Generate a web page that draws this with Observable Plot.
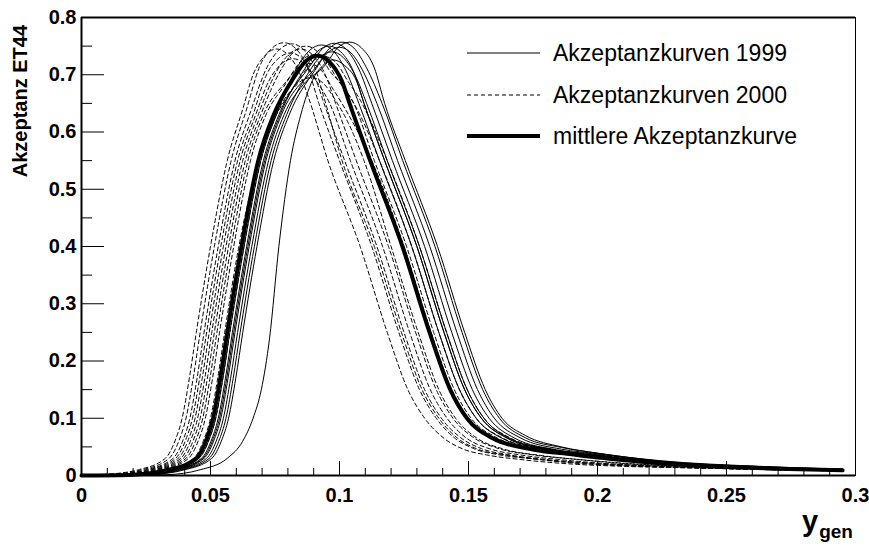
<!DOCTYPE html>
<html><head><meta charset="utf-8">
<script src="https://cdn.jsdelivr.net/npm/d3@7"></script>
<script src="https://cdn.jsdelivr.net/npm/@observablehq/plot@0.6"></script>
<style>html,body{margin:0;padding:0;background:#fff;} #chart{width:869px;height:548px;overflow:hidden;}</style>
</head><body><div id="chart"></div><script>
// ---- axis / label data ----
const X_DOMAIN = [0, 0.3];
const Y_DOMAIN = [0, 0.8];
const xMajor = [0, 0.05, 0.1, 0.15, 0.2, 0.25, 0.3];
const yMajor = [0, 0.1, 0.2, 0.3, 0.4, 0.5, 0.6, 0.7, 0.8];
const yMinor = [0.05, 0.15, 0.25, 0.35, 0.45, 0.55, 0.65, 0.75];
const xMinor = d3.range(1, 30).map(i => i / 100).filter(v => Math.round(v * 100) % 5 !== 0);
const yTitle = "Akzeptanz ET44";
const legendLabels = ["Akzeptanzkurven 1999", "Akzeptanzkurven 2000", "mittlere Akzeptanzkurve"];

// ---- curves: [y_gen, acceptance] ----
const S1 = [[0,0],[0.021,0.0015],[0.035,0.01],[0.0455,0.03],[0.0492,0.06],[0.052,0.1],[0.0548,0.17],[0.0575,0.25],[0.063,0.4],[0.0695,0.55],[0.0755,0.63],[0.0835,0.712],[0.0885,0.743],[0.093,0.752],[0.0975,0.742],[0.1025,0.707],[0.1075,0.65],[0.1155,0.55],[0.128,0.4],[0.1385,0.25],[0.1465,0.15],[0.153,0.1],[0.163,0.065],[0.179,0.045],[0.2,0.034],[0.225,0.022],[0.26,0.014],[0.295,0.01]];
const S2 = [[0,0],[0.022,0.0015],[0.036,0.01],[0.0465,0.03],[0.0502,0.06],[0.053,0.1],[0.0558,0.17],[0.0585,0.25],[0.064,0.4],[0.0705,0.55],[0.0765,0.63],[0.0885,0.715],[0.0935,0.746],[0.098,0.755],[0.1025,0.745],[0.1075,0.71],[0.1125,0.65],[0.1205,0.55],[0.133,0.4],[0.1435,0.25],[0.1515,0.15],[0.158,0.1],[0.168,0.065],[0.184,0.045],[0.2,0.037],[0.225,0.024],[0.26,0.015],[0.295,0.01]];
const S3 = [[0,0],[0.023,0.0015],[0.037,0.01],[0.0475,0.03],[0.0512,0.06],[0.054,0.1],[0.0568,0.17],[0.0595,0.25],[0.065,0.4],[0.0715,0.55],[0.0775,0.63],[0.0915,0.717],[0.0965,0.748],[0.101,0.757],[0.1055,0.747],[0.1105,0.712],[0.1165,0.65],[0.1245,0.55],[0.137,0.4],[0.1475,0.25],[0.1555,0.15],[0.162,0.1],[0.172,0.066],[0.186,0.049],[0.2,0.039],[0.225,0.025],[0.26,0.016],[0.295,0.011]];
const S4 = [[0,0],[0.024,0.0015],[0.038,0.01],[0.0485,0.03],[0.0522,0.06],[0.055,0.1],[0.0578,0.17],[0.0605,0.25],[0.066,0.4],[0.0725,0.55],[0.0785,0.63],[0.086,0.683],[0.0945,0.717],[0.0995,0.748],[0.104,0.757],[0.1085,0.747],[0.1135,0.712],[0.1175,0.65],[0.1255,0.55],[0.138,0.4],[0.1485,0.25],[0.1565,0.15],[0.163,0.1],[0.172,0.07],[0.186,0.05],[0.2,0.039],[0.224,0.026],[0.263,0.016],[0.295,0.011]];
const S5 = [[0,0],[0.025,0.0015],[0.039,0.01],[0.0495,0.03],[0.0532,0.06],[0.056,0.1],[0.0588,0.17],[0.0615,0.25],[0.067,0.4],[0.0735,0.55],[0.0795,0.63],[0.0875,0.7],[0.0925,0.731],[0.097,0.74],[0.1015,0.73],[0.1065,0.695],[0.1105,0.65],[0.1185,0.55],[0.131,0.4],[0.1415,0.25],[0.1495,0.15],[0.156,0.1],[0.166,0.065],[0.182,0.045],[0.2,0.035],[0.225,0.022],[0.26,0.014],[0.295,0.01]];
const S6 = [[0,0],[0.026,0.0015],[0.04,0.01],[0.0505,0.03],[0.0542,0.06],[0.057,0.1],[0.0598,0.17],[0.0625,0.25],[0.068,0.4],[0.0745,0.55],[0.0805,0.63],[0.0905,0.708],[0.0955,0.739],[0.1,0.748],[0.1045,0.738],[0.1095,0.703],[0.1145,0.65],[0.1225,0.55],[0.135,0.4],[0.1455,0.25],[0.1535,0.15],[0.16,0.1],[0.17,0.066],[0.186,0.046],[0.2,0.038],[0.225,0.024],[0.26,0.015],[0.295,0.011]];
const S7 = [[0,0],[0.033,0.0015],[0.046,0.01],[0.0565,0.03],[0.0625,0.06],[0.0665,0.1],[0.0697,0.15],[0.0729,0.24],[0.0765,0.4],[0.081,0.55],[0.085,0.63],[0.0895,0.69],[0.0935,0.716],[0.0975,0.726],[0.102,0.716],[0.1065,0.69],[0.1095,0.65],[0.1175,0.55],[0.13,0.4],[0.1405,0.25],[0.1485,0.15],[0.155,0.1],[0.165,0.065],[0.181,0.045],[0.2,0.034],[0.225,0.022],[0.26,0.014],[0.295,0.01]];
const S8 = [[0,0],[0.0225,0.0015],[0.0365,0.01],[0.047,0.03],[0.0507,0.06],[0.0535,0.1],[0.0563,0.17],[0.059,0.25],[0.0645,0.4],[0.071,0.55],[0.077,0.63],[0.0865,0.71],[0.0915,0.741],[0.096,0.75],[0.1005,0.74],[0.1055,0.705],[0.1095,0.65],[0.1175,0.55],[0.13,0.4],[0.1405,0.25],[0.1485,0.15],[0.155,0.1],[0.165,0.066],[0.181,0.046],[0.2,0.035],[0.225,0.023],[0.26,0.015],[0.295,0.01]];

const D1 = [[0,0],[0.008,0.0015],[0.022,0.01],[0.0325,0.03],[0.0362,0.06],[0.039,0.1],[0.0418,0.17],[0.0445,0.25],[0.05,0.4],[0.0565,0.55],[0.0625,0.64],[0.0665,0.7],[0.071,0.733],[0.0755,0.745],[0.08,0.735],[0.084,0.708],[0.088,0.66],[0.0955,0.55],[0.108,0.4],[0.1185,0.25],[0.1265,0.15],[0.133,0.1],[0.1405,0.065],[0.148,0.046],[0.157,0.036],[0.17,0.028],[0.19,0.02],[0.21,0.016],[0.24,0.013],[0.27,0.01],[0.295,0.008]];
const D2 = [[0,0],[0.0095,0.0015],[0.0235,0.01],[0.034,0.03],[0.0377,0.06],[0.0405,0.1],[0.0433,0.17],[0.046,0.25],[0.0515,0.4],[0.058,0.55],[0.064,0.64],[0.069,0.714],[0.074,0.747],[0.0785,0.756],[0.083,0.746],[0.0875,0.714],[0.092,0.65],[0.1,0.55],[0.1125,0.4],[0.123,0.25],[0.131,0.15],[0.1375,0.1],[0.1445,0.066],[0.152,0.047],[0.162,0.036],[0.175,0.029],[0.19,0.022],[0.21,0.017],[0.24,0.013],[0.27,0.01],[0.295,0.008]];
const D3 = [[0,0],[0.011,0.0015],[0.025,0.01],[0.0355,0.03],[0.0392,0.06],[0.042,0.1],[0.0448,0.17],[0.0475,0.25],[0.053,0.4],[0.0595,0.55],[0.0655,0.635],[0.072,0.714],[0.077,0.745],[0.0815,0.754],[0.086,0.744],[0.0905,0.712],[0.094,0.66],[0.101,0.55],[0.1135,0.4],[0.124,0.25],[0.132,0.15],[0.1385,0.1],[0.1455,0.066],[0.153,0.047],[0.164,0.036],[0.18,0.027],[0.2,0.02],[0.225,0.015],[0.26,0.011],[0.295,0.008]];
const D4 = [[0,0],[0.012,0.0015],[0.026,0.01],[0.0365,0.03],[0.0402,0.06],[0.043,0.1],[0.0458,0.17],[0.0485,0.25],[0.054,0.4],[0.0605,0.55],[0.0665,0.63],[0.0715,0.698],[0.0765,0.729],[0.081,0.738],[0.0855,0.728],[0.0905,0.693],[0.0962,0.65],[0.1042,0.55],[0.1167,0.4],[0.1272,0.25],[0.1352,0.15],[0.1417,0.1],[0.149,0.066],[0.158,0.047],[0.17,0.036],[0.185,0.028],[0.2,0.022],[0.225,0.016],[0.26,0.012],[0.295,0.009]];
const D5 = [[0,0],[0.013,0.0015],[0.027,0.01],[0.0375,0.03],[0.0412,0.06],[0.044,0.1],[0.0468,0.17],[0.0495,0.25],[0.055,0.4],[0.0615,0.55],[0.0675,0.63],[0.0725,0.688],[0.0775,0.719],[0.082,0.728],[0.0865,0.718],[0.0915,0.683],[0.094,0.65],[0.102,0.55],[0.1145,0.4],[0.125,0.25],[0.133,0.15],[0.1395,0.1],[0.147,0.066],[0.155,0.047],[0.166,0.036],[0.18,0.028],[0.2,0.021],[0.225,0.016],[0.26,0.011],[0.295,0.008]];
const D6 = [[0,0],[0.014,0.0015],[0.028,0.01],[0.0385,0.03],[0.0422,0.06],[0.045,0.1],[0.0478,0.17],[0.0505,0.25],[0.056,0.4],[0.0625,0.55],[0.0685,0.63],[0.0755,0.705],[0.0805,0.736],[0.085,0.745],[0.0895,0.735],[0.0945,0.7],[0.0985,0.65],[0.1065,0.55],[0.119,0.4],[0.1295,0.25],[0.1375,0.15],[0.144,0.1],[0.152,0.066],[0.161,0.048],[0.175,0.036],[0.19,0.029],[0.21,0.021],[0.24,0.015],[0.27,0.011],[0.295,0.009]];
const D7 = [[0,0],[0.015,0.0015],[0.029,0.01],[0.0395,0.03],[0.0432,0.06],[0.046,0.1],[0.0488,0.17],[0.0515,0.25],[0.057,0.4],[0.0635,0.55],[0.0695,0.63],[0.0775,0.71],[0.0825,0.741],[0.087,0.75],[0.0915,0.74],[0.0965,0.705],[0.101,0.682],[0.1055,0.65],[0.1135,0.55],[0.126,0.4],[0.1365,0.25],[0.1445,0.15],[0.151,0.1],[0.161,0.066],[0.176,0.046],[0.19,0.037],[0.21,0.027],[0.24,0.018],[0.27,0.012],[0.295,0.009]];
const D8 = [[0,0],[0.016,0.0015],[0.03,0.01],[0.0405,0.03],[0.0442,0.06],[0.047,0.1],[0.0498,0.17],[0.0525,0.25],[0.058,0.4],[0.0645,0.55],[0.0705,0.63],[0.0805,0.695],[0.0855,0.726],[0.09,0.735],[0.0945,0.725],[0.0995,0.69],[0.104,0.662],[0.1085,0.625],[0.1155,0.55],[0.128,0.4],[0.1385,0.25],[0.1465,0.15],[0.153,0.1],[0.163,0.066],[0.179,0.046],[0.2,0.035],[0.225,0.023],[0.26,0.015],[0.295,0.01]];
const D9 = [[0,0],[0.017,0.0015],[0.031,0.01],[0.0415,0.03],[0.0452,0.06],[0.048,0.1],[0.0508,0.17],[0.0535,0.25],[0.059,0.4],[0.0655,0.55],[0.0715,0.63],[0.0785,0.68],[0.0835,0.711],[0.088,0.72],[0.0925,0.71],[0.0975,0.675],[0.1025,0.638],[0.1125,0.55],[0.125,0.4],[0.1355,0.25],[0.1435,0.15],[0.15,0.1],[0.16,0.065],[0.175,0.045],[0.19,0.036],[0.21,0.026],[0.24,0.017],[0.27,0.012],[0.295,0.009]];
const D10 = [[0,0],[0.019,0.0015],[0.033,0.01],[0.0435,0.03],[0.0472,0.06],[0.05,0.1],[0.0528,0.17],[0.0555,0.25],[0.061,0.4],[0.0675,0.53],[0.0735,0.61],[0.0795,0.66],[0.0845,0.687],[0.089,0.695],[0.0935,0.686],[0.0985,0.655],[0.1035,0.615],[0.1095,0.55],[0.12,0.4],[0.1305,0.25],[0.1385,0.15],[0.145,0.1],[0.153,0.066],[0.163,0.047],[0.178,0.035],[0.195,0.027],[0.215,0.02],[0.245,0.015],[0.27,0.011],[0.295,0.009]];
const D11 = [[0,0],[0.021,0.0015],[0.035,0.01],[0.0455,0.03],[0.0492,0.06],[0.052,0.1],[0.0548,0.17],[0.0575,0.25],[0.063,0.4],[0.0695,0.55],[0.0755,0.63],[0.0845,0.692],[0.0895,0.723],[0.094,0.732],[0.0985,0.722],[0.1035,0.687],[0.1075,0.66],[0.1115,0.625],[0.1185,0.55],[0.131,0.4],[0.1415,0.25],[0.1495,0.15],[0.156,0.1],[0.166,0.066],[0.182,0.046],[0.2,0.036],[0.225,0.024],[0.26,0.015],[0.295,0.01]];

const meanCurve = [[0,0],[0.02,0.0015],[0.034,0.01],[0.0445,0.03],[0.0482,0.06],[0.051,0.1],[0.0538,0.17],[0.0565,0.25],[0.062,0.4],[0.0685,0.55],[0.0745,0.63],[0.082,0.693],[0.087,0.724],[0.0915,0.733],[0.096,0.723],[0.101,0.688],[0.1039,0.65],[0.1119,0.55],[0.1244,0.4],[0.1349,0.25],[0.1429,0.15],[0.1494,0.1],[0.1594,0.065],[0.1754,0.045],[0.19,0.037],[0.21,0.027],[0.24,0.017],[0.27,0.012],[0.295,0.009]];

const curves1999 = [S1, S2, S3, S4, S5, S6, S7, S8];
const curves2000 = [D1, D2, D3, D4, D5, D6, D7, D8, D9, D10, D11];

// ---- layout ----
const W = 869, H = 548, ML = 81, MR = 14, MT = 17, MB = 73;
const FW = W - ML - MR, FH = H - MT - MB;
const FONT = "'Liberation Sans', Arial, Helvetica, sans-serif";
const fmt = d => d === 0 ? "0" : String(+d.toFixed(2));
const acc = {x: d => d[0], y: d => d[1]};

const plot = Plot.plot({
  width: W, height: H,
  marginLeft: ML, marginRight: MR, marginTop: MT, marginBottom: MB,
  x: {domain: X_DOMAIN},
  y: {domain: Y_DOMAIN},
  style: {fontFamily: FONT, background: "white", color: "black"},
  marks: [
    ...curves2000.map(c => Plot.line(c, {...acc, curve: "monotone-x", stroke: "black", strokeWidth: 1, strokeDasharray: "4,3"})),
    ...curves1999.map(c => Plot.line(c, {...acc, curve: "monotone-x", stroke: "black", strokeWidth: 1})),
    Plot.line(meanCurve, {...acc, curve: "monotone-x", stroke: "black", strokeWidth: 4}),
    Plot.frame({stroke: "black", strokeWidth: 1}),
    Plot.ruleY(Y_DOMAIN, {stroke: "black", strokeWidth: 2}),
    Plot.ruleX([X_DOMAIN[0]], {stroke: "black", strokeWidth: 2}),
    Plot.tickX(xMinor, {x: d => d, insetTop: FH - 7, stroke: "black"}),
    Plot.tickX(xMajor, {x: d => d, insetTop: FH - 14, stroke: "black"}),
    Plot.tickY(yMinor, {y: d => d, insetRight: FW - 11, stroke: "black"}),
    Plot.tickY(yMajor, {y: d => d, insetRight: FW - 23, stroke: "black"}),
    Plot.axisX({ticks: xMajor, tickSize: 0, tickPadding: 12, tickFormat: fmt, fontSize: 20, fontWeight: "bold", label: null}),
    Plot.axisY({ticks: yMajor, tickSize: 0, tickPadding: 5, tickFormat: fmt, fontSize: 20, fontWeight: "bold", label: null})
  ]
});
document.getElementById("chart").appendChild(plot);

const svg = d3.select(plot);
// y-axis title
svg.append("text")
  .attr("transform", "translate(27,25) rotate(-90)")
  .attr("text-anchor", "end")
  .attr("font-family", FONT).attr("font-size", 20).attr("font-weight", "bold")
  .attr("fill", "black")
  .text(yTitle);
// x-axis title y_gen
const xt = svg.append("text")
  .attr("x", 802).attr("y", 531)
  .attr("text-anchor", "start")
  .attr("font-family", FONT).attr("font-weight", "bold").attr("fill", "black");
xt.append("tspan").attr("font-size", 29).text("y");
xt.append("tspan").attr("font-size", 19).attr("dy", 7).attr("dx", 1).text("gen");

// legend
const legendStyles = [
  {w: 1, dash: null},
  {w: 1, dash: "4,3"},
  {w: 4, dash: null}
];
const rowsY = [53, 95, 136];
legendLabels.forEach((lab, i) => {
  const g = svg.append("g");
  g.append("line").attr("x1", 467).attr("x2", 540).attr("y1", rowsY[i]).attr("y2", rowsY[i])
    .attr("stroke", "black").attr("stroke-width", legendStyles[i].w)
    .attr("stroke-dasharray", legendStyles[i].dash);
  g.append("text").attr("x", 553).attr("y", rowsY[i] + 8)
    .attr("text-anchor", "start")
    .attr("font-family", FONT).attr("font-size", 23).attr("fill", "black").text(lab);
});
</script></body></html>
